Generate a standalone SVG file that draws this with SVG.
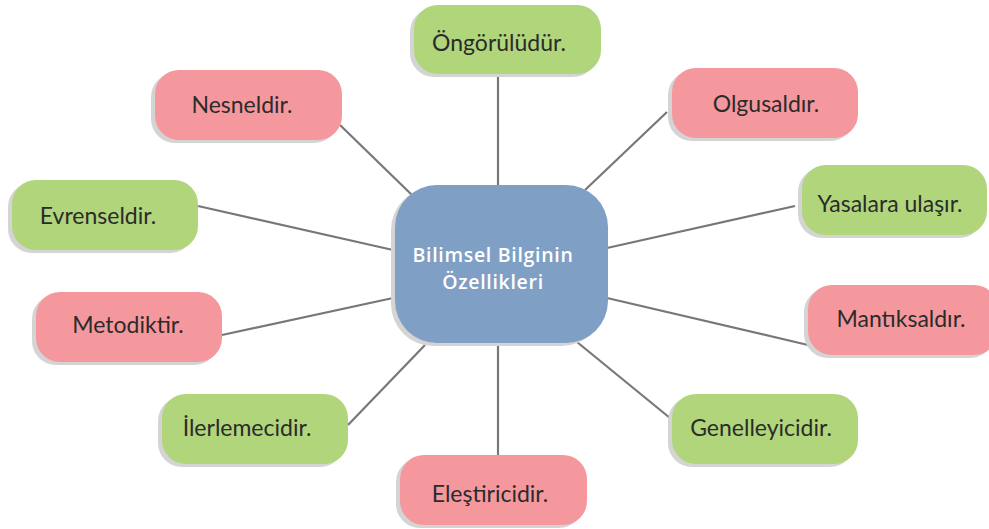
<svg xmlns="http://www.w3.org/2000/svg" width="989" height="529" viewBox="0 0 989 529">
<style>
.sh{fill:#d4d4d4}
.pk{fill:#f5989e}
.gr{fill:#b0d57a}
.bl{fill:#809fc5}
.lbl{font-family:Lato,"Open Sans",sans-serif;font-size:23px;fill:#2b2b2b;text-anchor:middle;dominant-baseline:central}
.ctr{font-family:"Open Sans",sans-serif;font-weight:600;font-size:19.5px;fill:#ffffff;text-anchor:middle;dominant-baseline:central;letter-spacing:0.7px}
.ln{stroke:#777777;stroke-width:2.2;fill:none}
</style>
<rect width="989" height="529" fill="#ffffff"/>
<g id="connectors">
<line class="ln" x1="498" y1="75" x2="498" y2="186"/>
<line class="ln" x1="340" y1="125" x2="413" y2="196"/>
<line class="ln" x1="667" y1="112" x2="585" y2="190"/>
<line class="ln" x1="198" y1="206" x2="393" y2="250"/>
<line class="ln" x1="795" y1="206" x2="607" y2="248"/>
<line class="ln" x1="222" y1="335" x2="393" y2="298"/>
<line class="ln" x1="607" y1="298" x2="808" y2="345"/>
<line class="ln" x1="348" y1="425" x2="425" y2="345"/>
<line class="ln" x1="577" y1="342" x2="670" y2="418"/>
<line class="ln" x1="498" y1="342" x2="498" y2="456"/>
</g>
<g id="center">
<rect class="sh" x="391" y="188" width="213" height="158" rx="42"/>
<rect class="bl" x="395" y="185" width="213" height="158" rx="42"/>
<text class="ctr" x="493" y="254">Bilimsel Bilginin</text>
<text class="ctr" x="493" y="281">Özellikleri</text>
</g>
<g id="n-ongoruludur">
<rect class="sh" x="410" y="8" width="187" height="69" rx="24"/>
<rect class="gr" x="414" y="5" width="187" height="69" rx="24"/>
<text class="lbl" x="499" y="42">Öngörülüdür.</text>
</g>
<g id="n-nesneldir">
<rect class="sh" x="151" y="73" width="187" height="70" rx="24"/>
<rect class="pk" x="155" y="70" width="187" height="70" rx="24"/>
<text class="lbl" x="242" y="104">Nesneldir.</text>
</g>
<g id="n-olgusaldir">
<rect class="sh" x="668" y="71" width="186" height="70" rx="24"/>
<rect class="pk" x="672" y="68" width="186" height="70" rx="24"/>
<text class="lbl" x="766" y="103">Olgusaldır.</text>
</g>
<g id="n-evrenseldir">
<rect class="sh" x="8" y="183" width="186" height="70" rx="24"/>
<rect class="gr" x="12" y="180" width="186" height="70" rx="24"/>
<text class="lbl" x="98" y="215">Evrenseldir.</text>
</g>
<g id="n-yasalara">
<rect class="sh" x="798" y="168" width="185" height="70" rx="24"/>
<rect class="gr" x="802" y="165" width="185" height="70" rx="24"/>
<text class="lbl" x="890" y="203">Yasalara ulaşır.</text>
</g>
<g id="n-metodiktir">
<rect class="sh" x="32" y="295" width="186" height="70" rx="24"/>
<rect class="pk" x="36" y="292" width="186" height="70" rx="24"/>
<text class="lbl" x="128" y="324">Metodiktir.</text>
</g>
<g id="n-mantiksaldir">
<rect class="sh" x="804" y="288" width="190" height="70" rx="24"/>
<rect class="pk" x="808" y="285" width="190" height="70" rx="24"/>
<text class="lbl" x="901" y="318">Mantıksaldır.</text>
</g>
<g id="n-ilerlemecidir">
<rect class="sh" x="158" y="397" width="186" height="70" rx="24"/>
<rect class="gr" x="162" y="394" width="186" height="70" rx="24"/>
<text class="lbl" x="247" y="427">İlerlemecidir.</text>
</g>
<g id="n-genelleyicidir">
<rect class="sh" x="668" y="397" width="186" height="70" rx="24"/>
<rect class="gr" x="672" y="394" width="186" height="70" rx="24"/>
<text class="lbl" x="761" y="427">Genelleyicidir.</text>
</g>
<g id="n-elestiricidir">
<rect class="sh" x="396" y="458" width="187" height="70" rx="24"/>
<rect class="pk" x="400" y="455" width="187" height="70" rx="24"/>
<text class="lbl" x="490" y="493">Eleştiricidir.</text>
</g>
</svg>
